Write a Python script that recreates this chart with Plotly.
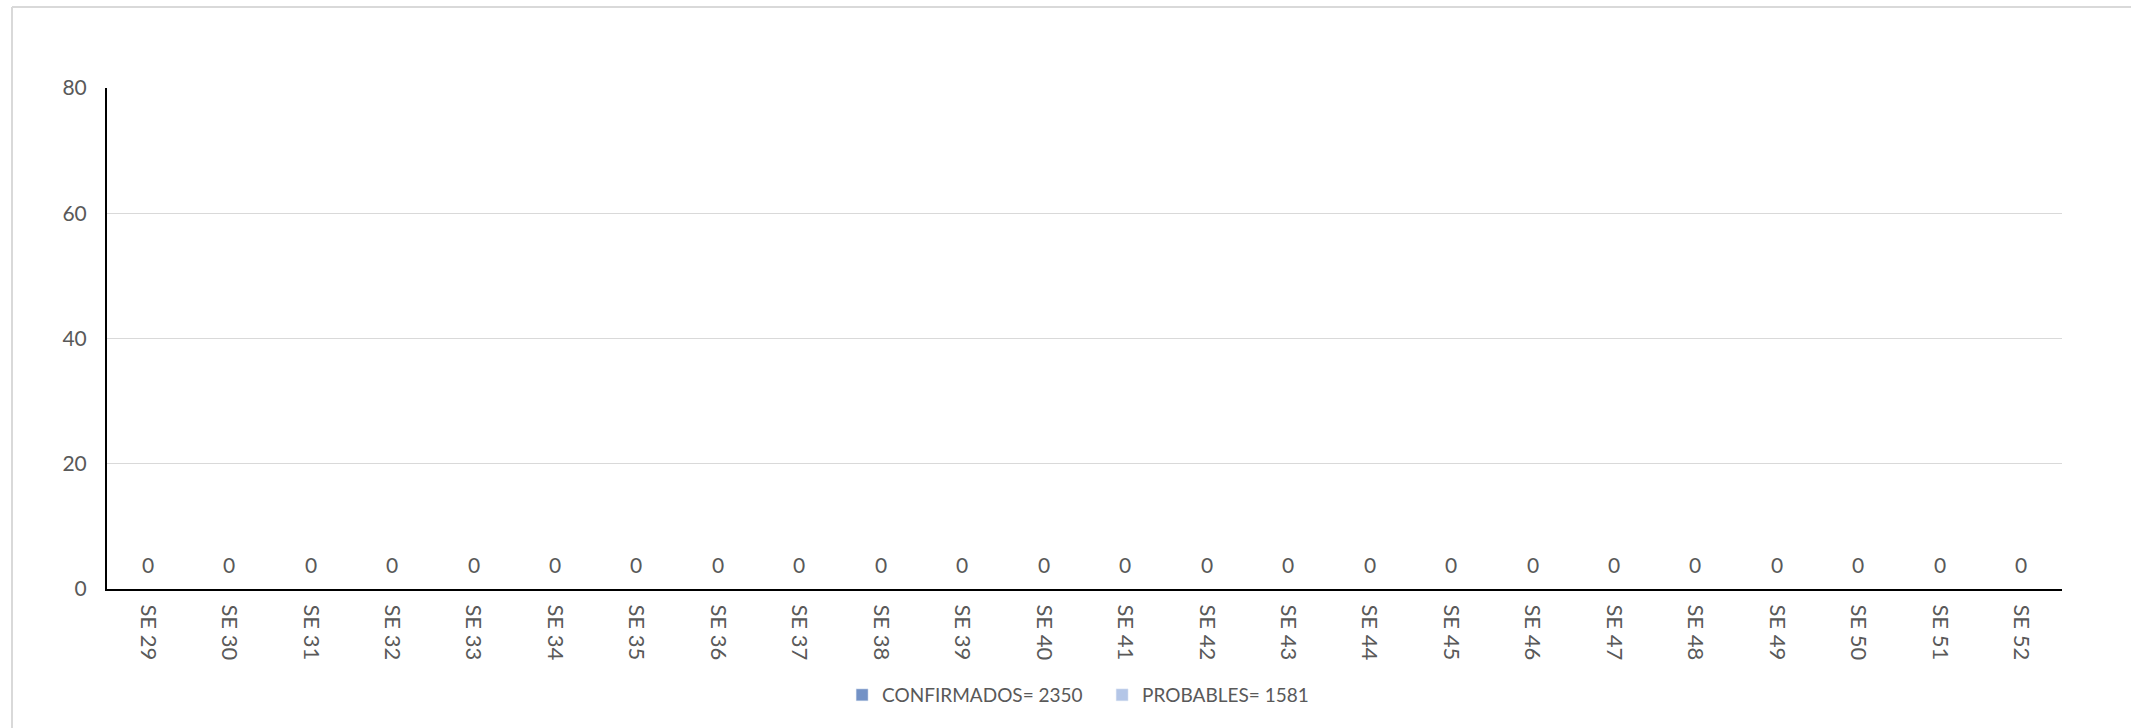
import plotly.graph_objects as go

semanas = ["SE 29", "SE 30", "SE 31", "SE 32", "SE 33", "SE 34", "SE 35", "SE 36",
           "SE 37", "SE 38", "SE 39", "SE 40", "SE 41", "SE 42", "SE 43", "SE 44",
           "SE 45", "SE 46", "SE 47", "SE 48", "SE 49", "SE 50", "SE 51", "SE 52"]
confirmados = [0] * 24
probables = [0] * 24
nombre_conf = "CONFIRMADOS= 2350"
nombre_prob = "PROBABLES= 1581"
y_ticks = [0, 20, 40, 60, 80]

FONT = "Lato"
GRAY = "#595959"

fig = go.Figure()
fig.add_trace(go.Bar(x=semanas, y=confirmados, name=nombre_conf,
                     marker=dict(color="#7392c6")))
fig.add_trace(go.Bar(x=semanas, y=probables, name=nombre_prob,
                     marker=dict(color="#b4c6e7")))

totales = [c + p for c, p in zip(confirmados, probables)]
for s, t in zip(semanas, totales):
    fig.add_annotation(x=s, y=t, text=str(t), showarrow=False, yshift=25,
                       font=dict(family=FONT, size=21, color=GRAY))

# outer chart border (top and left visible)
fig.add_shape(type="line", xref="paper", yref="paper", x0=-0.0486, x1=1.04,
              y0=1.1617, y1=1.1617, line=dict(color="#d9d9d9", width=2))
fig.add_shape(type="line", xref="paper", yref="paper", x0=-0.0486, x1=-0.0486,
              y0=1.1617, y1=-0.3, line=dict(color="#d9d9d9", width=2))

fig.update_layout(
    width=2131, height=728,
    margin=dict(l=107, r=69, t=88, b=139, autoexpand=False),
    paper_bgcolor="white", plot_bgcolor="white",
    barmode="stack",
    showlegend=True,
    legend=dict(orientation="h", x=0.509, xanchor="center", y=-0.2116, yanchor="middle",
                font=dict(family=FONT, size=19, color=GRAY), itemwidth=30,
                entrywidth=215, entrywidthmode="pixels",
                traceorder="normal"),
    xaxis=dict(type="category", tickangle=90, showline=True, linecolor="black",
               linewidth=2, showgrid=False, zeroline=False, ticks="",
               ticklabelstandoff=9,
               tickfont=dict(family=FONT, size=22, color=GRAY)),
    yaxis=dict(range=[0, 80], tickvals=y_ticks, showline=True, linecolor="black",
               linewidth=2, showgrid=True, gridcolor="#d9d9d9", gridwidth=1,
               zeroline=False, ticks="", ticklabelstandoff=14,
               tickfont=dict(family=FONT, size=21, color=GRAY)),
)

fig.write_html("out.html", config={"displayModeBar": False},
               post_script="document.body.style.margin='0px';")
